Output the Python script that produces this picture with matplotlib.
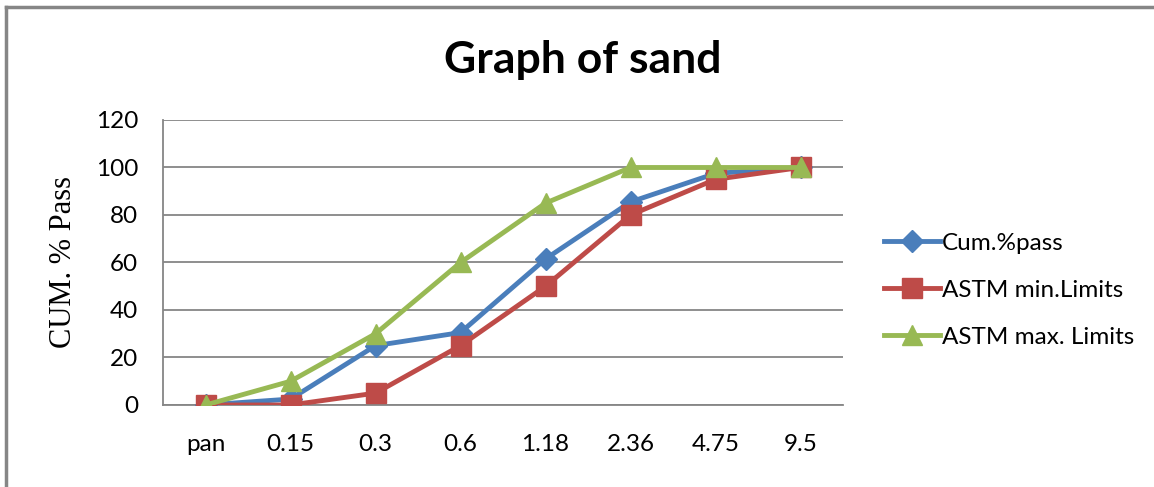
import matplotlib.pyplot as plt
from matplotlib.lines import Line2D

sieves = ["pan", "0.15", "0.3", "0.6", "1.18", "2.36", "4.75", "9.5"]
cum_pass = [0, 2.5, 25, 30.5, 61.5, 85.5, 97.5, 100]
astm_min = [0, 0, 5, 25, 50, 80, 95, 100]
astm_max = [0, 10, 30, 60, 85, 100, 100, 100]

fig = plt.figure(figsize=(11.54, 4.87), dpi=100)
ax = fig.add_axes([0.1413, 0.1684, 0.5892, 0.5852])

x = range(len(sieves))
ax.plot(x, cum_pass, color="#4A7EBB", lw=3.5, marker="D", ms=11.5,
        label="Cum.%pass", zorder=3)
ax.plot(x, astm_min, color="#BE4B48", lw=3.5, marker="s", ms=14,
        label="ASTM min.Limits", zorder=3)
ax.plot(x, astm_max, color="#98B954", lw=3.5, marker="^", ms=15,
        label="ASTM max. Limits", zorder=4)

ax.set_xlim(-0.5, len(sieves) - 0.5)
ax.set_ylim(0, 120)
ax.set_yticks(range(0, 121, 20))
ax.set_xticks(list(x))
ax.set_xticklabels(sieves)
ax.grid(axis="y", color="#868686", lw=1.3)
ax.set_axisbelow(True)
for s in ["top", "right"]:
    ax.spines[s].set_visible(False)
for s in ["left", "bottom"]:
    ax.spines[s].set_color("#868686")
    ax.spines[s].set_linewidth(1.3)
ax.tick_params(length=0, labelsize=17.5)
ax.tick_params(axis="y", pad=18)
ax.tick_params(axis="x", pad=21)
for lab in ax.get_xticklabels() + ax.get_yticklabels():
    lab.set_fontfamily("Lato")

ax.set_ylabel("CUM. % Pass", fontsize=22, fontfamily="Liberation Serif", labelpad=13)
fig.text(0.505, 0.877, "Graph of sand", ha="center", va="center",
         fontsize=32, fontweight="bold", fontfamily="Lato")

leg = ax.legend(loc="center left", bbox_to_anchor=(1.028, 0.402), frameon=False,
                prop={"family": "Lato", "size": 17.5}, handlelength=2.3,
                handletextpad=0.1, labelspacing=1.07)

# outer chart border (left and top edges)
fig.add_artist(Line2D([0.0055, 0.0055], [0, 0.985], color="#868686", lw=2.5,
                      transform=fig.transFigure))
fig.add_artist(Line2D([0.0055, 1], [0.985, 0.985], color="#868686", lw=2.5,
                      transform=fig.transFigure))

fig.savefig("out.png", dpi=100)
